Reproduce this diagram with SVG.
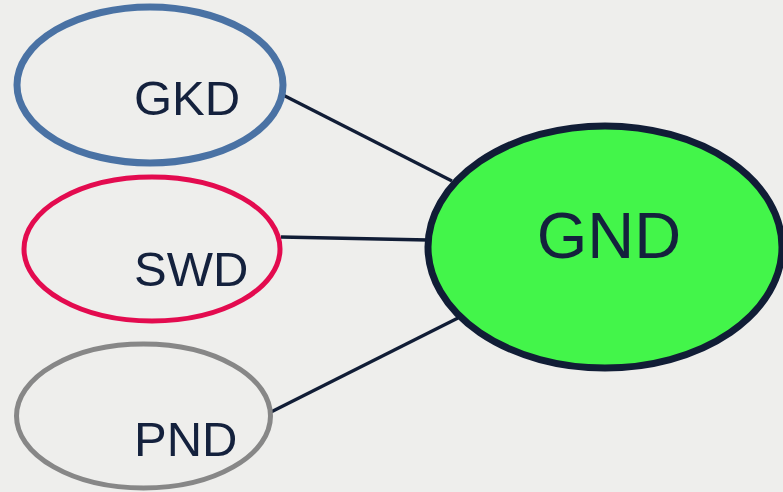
<svg xmlns="http://www.w3.org/2000/svg" width="783" height="492" viewBox="0 0 783 492">
<style>
.lbl{font-family:"Liberation Sans",Arial,sans-serif;fill:#14213d}
.edge{stroke:#111d36;stroke-width:3.3;fill:none}
</style>
<rect width="783" height="492" fill="#eeeeec"/>
<g id="connectors">
<line class="edge" x1="283" y1="95" x2="452" y2="181"/>
<line class="edge" x1="281" y1="237" x2="428" y2="240"/>
<line class="edge" x1="271" y1="412" x2="458" y2="318"/>
</g>
<g id="GKD">
<ellipse cx="150" cy="85" rx="133" ry="78" fill="none" stroke="#4a72a4" stroke-width="7"/>
<text class="lbl" x="134" y="115" font-size="49">GKD</text>
</g>
<g id="SWD">
<ellipse cx="152" cy="249" rx="128" ry="72" fill="none" stroke="#e30b4f" stroke-width="5"/>
<text class="lbl" x="134" y="286" font-size="49">SWD</text>
</g>
<g id="PND">
<ellipse cx="143.5" cy="416" rx="127" ry="72" fill="none" stroke="#878787" stroke-width="5"/>
<text class="lbl" x="134" y="456" font-size="49">PND</text>
</g>
<g id="GND">
<ellipse cx="605" cy="247" rx="177" ry="121" fill="#43f54a" stroke="#111d36" stroke-width="7"/>
<text class="lbl" x="609" y="258" font-size="65" text-anchor="middle">GND</text>
</g>
</svg>
